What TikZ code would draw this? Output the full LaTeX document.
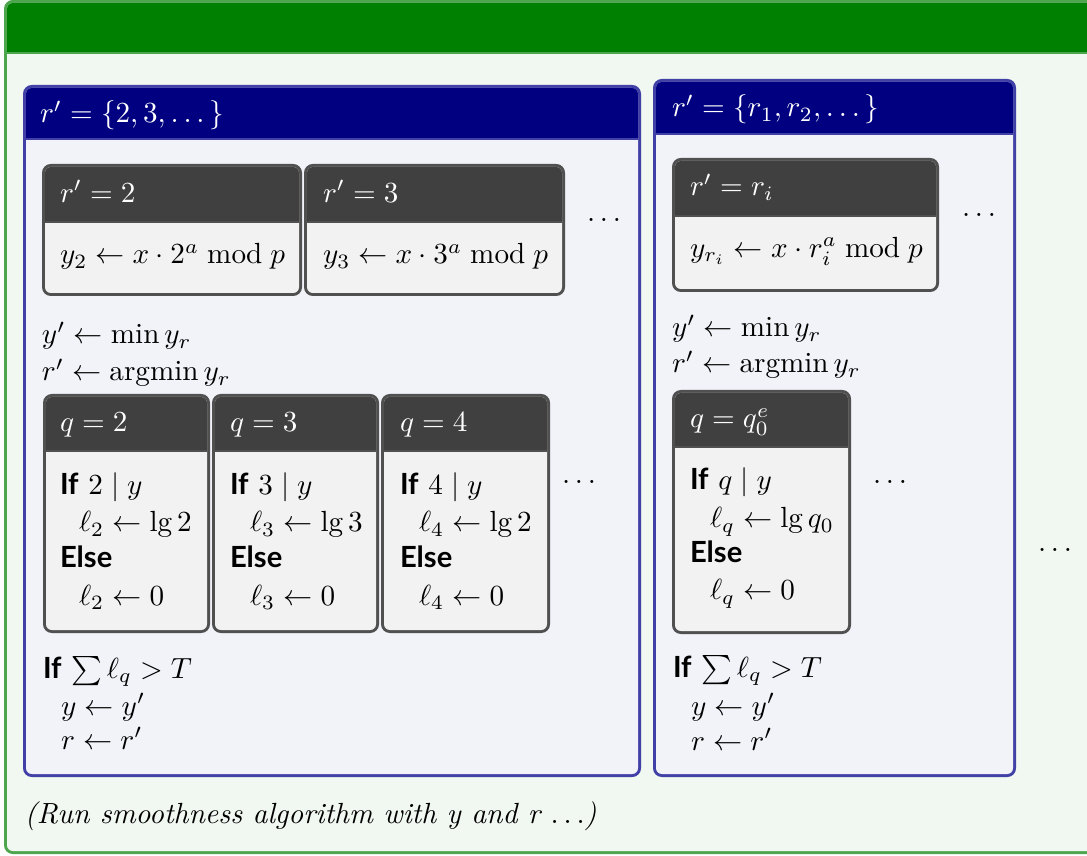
\documentclass[tikz,border=0pt]{standalone}
\usepackage{amsmath}
\usepackage{fontspec}
\newfontfamily\lato{Lato}
\newcommand\kw[1]{{\lato\bfseries #1}}
\definecolor{grTitle}{RGB}{0,128,0}
\definecolor{grFrame}{RGB}{77,166,77}
\definecolor{grBody}{RGB}{241,247,241}
\definecolor{blTitle}{RGB}{0,0,128}
\definecolor{blFrame}{RGB}{64,64,166}
\definecolor{blBody}{RGB}{242,243,249}
\definecolor{gyTitle}{RGB}{64,64,64}
\definecolor{gyFrame}{RGB}{80,80,80}
\definecolor{gyBody}{RGB}{242,242,242}
% #1 x1, #2 y1, #3 x2, #4 y2, #5 y of title bottom, #6 colour prefix
\newcommand\tbox[6]{%
  \fill[#6Frame, rounded corners=3pt] (#1,#2) rectangle (#3,#4);
  \begin{scope}
    \clip[rounded corners=2pt] (#1+3,#2+3) rectangle (#3-3,#4-3);
    \fill[#6Body] (#1,#2) rectangle (#3,#4);
    \fill[#6Title] (#1,#2) rectangle (#3,#5);
    \fill[#6Frame] (#1,#5) rectangle (#3,#5+2.5);
  \end{scope}}
\begin{document}
\begin{tikzpicture}[x=0.343pt,y=-0.343pt,
  txt/.style={anchor=base west, inner sep=0pt, outer sep=0pt},
  wtxt/.style={txt, text=white}]
\useasboundingbox (0,0) rectangle (1087,856);
\clip (0,0) rectangle (1087,856);
% outer box
\tbox{4}{0}{1100}{854}{52}{gr}
% blue boxes
\tbox{23}{85}{641}{777}{138}{bl}
\tbox{653}{79}{1016}{777}{133}{bl}
% gray boxes
\tbox{42}{164}{302}{296}{221}{gy}
\tbox{304}{164}{565}{296}{221}{gy}
\tbox{672}{158}{939}{292}{215}{gy}
\tbox{43}{394}{210}{633}{450}{gy}
\tbox{212}{394}{379}{633}{450}{gy}
\tbox{381}{394}{550}{633}{450}{gy}
\tbox{672}{390}{851}{634}{446}{gy}
% titles
\node[wtxt] (tl) at (40,123) {$r' = \{2,3,\dots\}$};
\node[wtxt] (tr) at (672,117) {$r' = \{r_1, r_2, \dots\}$};
% r' boxes
\node[wtxt] (ta) at (60,202.5) {$r' = 2$};
\node[txt] (ba) at (60,264) {$y_2 \leftarrow x \cdot 2^a \bmod p$};
\node[wtxt] (tb) at (323,202.5) {$r' = 3$};
\node[txt] (bb) at (323,264) {$y_3 \leftarrow x \cdot 3^a \bmod p$};
\node[wtxt] (tc) at (690,196) {$r' = r_i$};
\node[txt] (bc) at (690,257.5) {$y_{r_i} \leftarrow x \cdot r_i^a \bmod p$};
\node[txt] (d1) at (587,222) {$\dots$};
\node[txt] (d2) at (962,217) {$\dots$};
% min lines
\node[txt] (ml1) at (42,344) {$y' \leftarrow \min y_r$};
\node[txt] (ml2) at (42,381) {$r' \leftarrow \operatorname{argmin} y_r$};
\node[txt] (mr1) at (672,337) {$y' \leftarrow \min y_r$};
\node[txt] (mr2) at (672,373) {$r' \leftarrow \operatorname{argmin} y_r$};
% q boxes
\node[wtxt] (q2t) at (60,432) {$q = 2$};
\node[txt] (q2a) at (60,495) {\kw{If} $2 \mid y$};
\node[txt] (q2b) at (79,532) {$\ell_2 \leftarrow \lg 2$};
\node[txt] (q2c) at (60,568) {\kw{Else}};
\node[txt] (q2d) at (79,605) {$\ell_2 \leftarrow 0$};
\node[wtxt] (q3t) at (230,432) {$q = 3$};
\node[txt] (q3a) at (230,495) {\kw{If} $3 \mid y$};
\node[txt] (q3b) at (250,532) {$\ell_3 \leftarrow \lg 3$};
\node[txt] (q3c) at (230,568) {\kw{Else}};
\node[txt] (q3d) at (250,605) {$\ell_3 \leftarrow 0$};
\node[wtxt] (q4t) at (400,432) {$q = 4$};
\node[txt] (q4a) at (400,495) {\kw{If} $4 \mid y$};
\node[txt] (q4b) at (419,532) {$\ell_4 \leftarrow \lg 2$};
\node[txt] (q4c) at (400,568) {\kw{Else}};
\node[txt] (q4d) at (419,605) {$\ell_4 \leftarrow 0$};
\node[wtxt] (qqt) at (690,428) {$q = q_0^e$};
\node[txt] (qqa) at (690,490) {\kw{If} $q \mid y$};
\node[txt] (qqb) at (710,528) {$\ell_q \leftarrow \lg q_0$};
\node[txt] (qqc) at (690,563) {\kw{Else}};
\node[txt] (qqd) at (710,600) {$\ell_q \leftarrow 0$};
\node[txt] (d3) at (562,484) {$\dots$};
\node[txt] (d4) at (873,484) {$\dots$};
\node[txt] (d5) at (1038,551) {$\dots$};
% bottom lines
\node[txt] (la) at (43,678) {\kw{If} $\sum \ell_q > T$};
\node[txt] (lb) at (61,715) {$y \leftarrow y'$};
\node[txt] (lc) at (61,749) {$r \leftarrow r'$};
\node[txt] (ra) at (673,677) {\kw{If} $\sum \ell_q > T$};
\node[txt] (rb) at (691,715) {$y \leftarrow y'$};
\node[txt] (rc) at (691,750) {$r \leftarrow r'$};
\node[txt] (note) at (25,823) {\textit{(Run smoothness algorithm with y and r $\ldots$)}};
\end{tikzpicture}
\end{document}
